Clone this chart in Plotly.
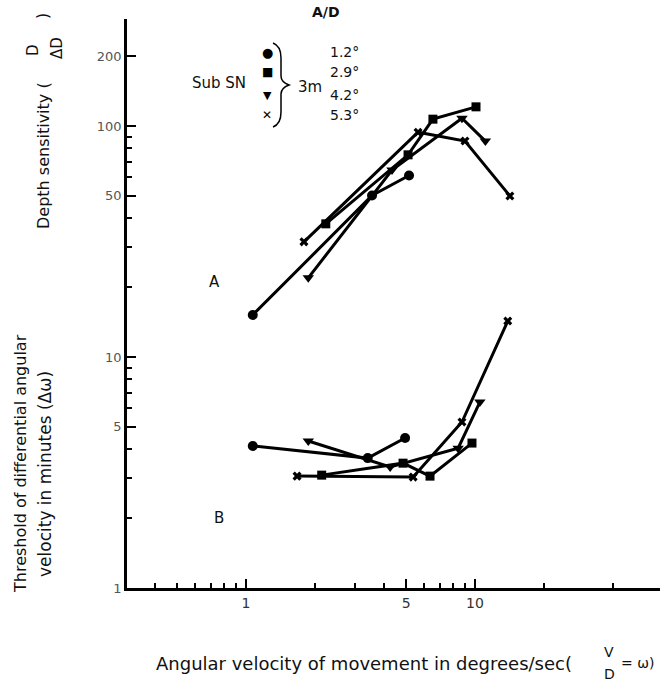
import plotly.graph_objects as go

# ---- data ----
# Panel A: depth sensitivity D/ΔD ; Panel B: threshold Δω (minutes)
circ_w_A = [1.07, 3.55, 5.15]
circ_A = [15.2, 50.0, 61.0]
circ_w_B = [1.07, 3.4, 4.95]
circ_B = [4.12, 3.65, 4.46]

sq_w_A = [2.23, 5.1, 6.55, 10.1]
sq_A = [37.7, 75.0, 107.0, 121.0]
sq_w_B = [2.14, 4.85, 6.36, 9.7]
sq_B = [3.08, 3.47, 3.05, 4.24]

tri_w_A = [1.87, 4.34, 8.77, 11.1]
tri_A = [22.0, 64.5, 108.0, 86.0]
tri_w_B = [1.87, 4.26, 8.44, 10.5]
tri_B = [4.33, 3.34, 4.03, 6.38]

x_w_A = [1.79, 5.64, 9.04, 14.2]
x_A = [31.5, 94.0, 86.0, 49.8]
x_w_B = [1.67, 5.37, 8.77, 13.9]
x_B = [3.05, 3.02, 5.23, 14.3]

y_major = [1, 5, 10, 50, 100, 200]
y_major_text = ["1", "5", "10", "50", "100", "200"]
y_minor = [2, 3, 4, 6, 7, 8, 9, 20, 30, 40, 60, 70, 80, 90]
x_major = [1, 5, 10]
x_major_text = ["1", "5", "10"]
x_minor = [0.4, 0.5, 0.6, 0.7, 0.8, 0.9, 2, 3, 4, 6, 7, 8, 9, 20, 40]

legend_syms = ["●", "■", "▼", "✕"]
legend_angles = ["1.2°", "2.9°", "4.2°", "5.3°"]

# ---- layout helpers (pixel -> paper) ----
L, R, T, B = 127, 660, 19, 588
W, H = R - L, B - T


def px(x):
    return (x - L) / W


def py(y):
    return (B - y) / H


FONT = "DejaVu Sans"
INK = "#111"

fig = go.Figure()

series = [
    (circ_w_A, circ_A, circ_w_B, circ_B, "circle", 10),
    (sq_w_A, sq_A, sq_w_B, sq_B, "square", 9),
    (tri_w_A, tri_A, tri_w_B, tri_B, "triangle-down", 10),
    (x_w_A, x_A, x_w_B, x_B, "x", 8),
]
for wa, va, wb, vb, sym, sz in series:
    for w, v in ((wa, va), (wb, vb)):
        fig.add_trace(go.Scatter(
            x=w, y=v, mode="lines+markers",
            line=dict(color="black", width=3),
            marker=dict(symbol=sym, size=sz, color="black"),
            showlegend=False, hoverinfo="skip"))

ann = []


def text(x, y, s, size=14, angle=0, xanchor="center", yanchor="middle", color=INK):
    ann.append(dict(x=px(x), y=py(y), xref="paper", yref="paper", text=s,
                    showarrow=False, textangle=angle, xanchor=xanchor,
                    yanchor=yanchor, font=dict(family=FONT, size=size, color=color)))


# legend key
text(326, 12, "<b>A/D</b>", size=14)
text(219, 83, "Sub SN", size=15)
leg_y = [52, 72, 95, 115]
leg_sz = [13, 12, 11, 12]
for s, a, yy, fs in zip(legend_syms, legend_angles, leg_y, leg_sz):
    text(267, yy, s, size=fs, color="black")
    text(344, yy, a, size=14)
text(310, 87, "3m", size=15)

# panel letters
text(214, 282, "A", size=15)
text(219, 518, "B", size=15)

# x axis title
text(574, 663, "Angular velocity of movement in degrees/sec(", size=18, xanchor="right")
text(609, 652, "V", size=14)
text(609, 674, "D", size=14)
text(619, 663, "= ω)", size=14, xanchor="left")

# upper y title
text(43, 156, "Depth sensitivity (", size=16, angle=-90)
text(33, 50, "D", size=15, angle=-90)
text(57, 48, "ΔD", size=15, angle=-90)
text(43, 16, ")", size=16, angle=-90)

# lower y title
text(20, 464, "Threshold of differential angular", size=16, angle=-90)
text(45, 474, "velocity in minutes (Δω)", size=17, angle=-90)

# brace
p = [(273, 43), (281, 46), (281, 58), (281, 76), (281, 82), (289, 85),
     (281, 88), (281, 94), (281, 112), (281, 124), (273, 127)]
path = (f"M {px(p[0][0])},{py(p[0][1])} Q {px(p[1][0])},{py(p[1][1])} {px(p[2][0])},{py(p[2][1])} "
        f"L {px(p[3][0])},{py(p[3][1])} Q {px(p[4][0])},{py(p[4][1])} {px(p[5][0])},{py(p[5][1])} "
        f"Q {px(p[6][0])},{py(p[6][1])} {px(p[7][0])},{py(p[7][1])} "
        f"L {px(p[8][0])},{py(p[8][1])} Q {px(p[9][0])},{py(p[9][1])} {px(p[10][0])},{py(p[10][1])}")
shapes = [dict(type="path", path=path, xref="paper", yref="paper",
               line=dict(color="black", width=1.5))]

fig.update_layout(
    width=660, height=686,
    margin=dict(l=L, r=660 - R, t=T, b=686 - B, pad=0),
    paper_bgcolor="white", plot_bgcolor="white",
    showlegend=False,
    annotations=ann, shapes=shapes,
    xaxis=dict(type="log", range=[-0.52, 1.808], showgrid=False, zeroline=False,
               showline=True, linecolor="black", linewidth=2.5,
               tickmode="array", tickvals=x_major, ticktext=x_major_text,
               ticks="inside", ticklen=9, tickwidth=1.5, tickcolor="black",
               tickfont=dict(family=FONT, size=14, color="#333"),
               minor=dict(tickmode="array", tickvals=x_minor, ticks="inside",
                          ticklen=5, tickwidth=1.5, tickcolor="black", showgrid=False)),
    yaxis=dict(type="log", range=[0, 2.463], showgrid=False, zeroline=False,
               showline=True, linecolor="black", linewidth=2.5,
               tickmode="array", tickvals=y_major, ticktext=y_major_text,
               ticks="inside", ticklen=9, tickwidth=1.5, tickcolor="black",
               tickfont=dict(family=FONT, size=13, color="#555"),
               minor=dict(tickmode="array", tickvals=y_minor, ticks="inside",
                          ticklen=5, tickwidth=1.5, tickcolor="black", showgrid=False)),
)

fig.write_html("out.html", config={"displayModeBar": False},
               post_script="document.body.style.margin='0';document.body.style.overflow='hidden';")
